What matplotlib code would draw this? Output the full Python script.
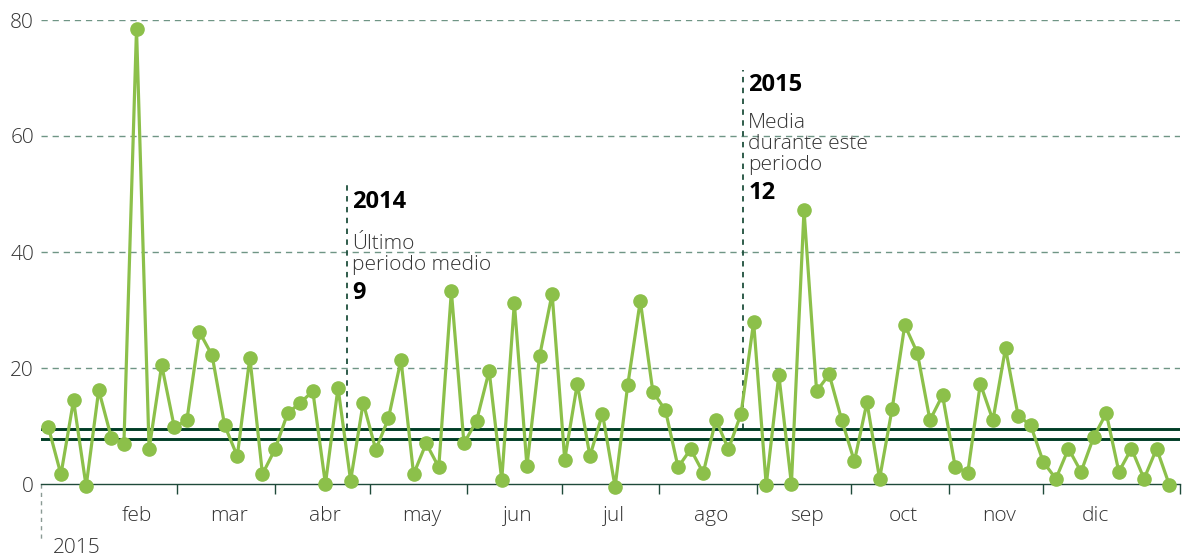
import matplotlib
matplotlib.use("Agg")
import matplotlib.pyplot as plt
import pandas as pd
import numpy as np

# ---- data ----
start_date = "2015-01-19"
values = [9.8, 1.65, 14.4, -0.4, 16.2, 8.0, 6.9, 78.5, 6.0, 20.5,
          9.8, 11.0, 26.2, 22.2, 10.1, 4.8, 21.8, 1.7, 6.0, 12.2,
          14.0, 16.0, 0.0, 16.6, 0.6, 14.0, 5.9, 11.3, 21.4, 1.7,
          7.0, 2.9, 33.2, 7.0, 10.9, 19.5, 0.7, 31.2, 3.1, 22.0,
          32.8, 4.2, 17.3, 4.8, 12.1, -0.5, 17.0, 31.6, 15.9, 12.7,
          2.9, 6.0, 1.9, 11.1, 6.0, 12.1, 27.9, -0.2, 18.8, 0.0,
          47.2, 16.0, 18.9, 11.0, 3.9, 14.1, 0.9, 13.0, 27.4, 22.6,
          11.0, 15.3, 3.0, 1.9, 17.3, 11.0, 23.4, 11.8, 10.1, 3.8,
          0.9, 6.1, 2.1, 8.1, 12.2, 2.1, 6.1, 0.9, 6.1, -0.1]
reference_levels = [9.5, 7.8]
month_labels = ["feb", "mar", "abr", "may", "jun", "jul", "ago", "sep", "oct", "nov", "dic"]
y_ticks = [0, 20, 40, 60, 80]
ann1 = {"year": "2014", "text": "Último\nperiodo medio", "value": "9"}
ann2 = {"year": "2015", "text": "Media\ndurante este\nperiodo", "value": "12"}

dates = pd.date_range(start_date, periods=len(values), freq="4D")

plt.rcParams['font.family'] = ['Open Sans', 'DejaVu Sans']

GREEN = "#8cc04a"
DARK = "#003d26"
GRID = "#6f9585"
TXT = "#333333"

fig = plt.figure(figsize=(11.83, 5.55), dpi=100)
ax = fig.add_axes([41/1183, 71/555, 1139/1183, 464/555])

xmin = pd.Timestamp("2015-01-16 16:00")
xmax = pd.Timestamp("2016-01-13 10:00")
ax.set_xlim(xmin, xmax)
ax.set_ylim(0, 80)

# gridlines
for yv in y_ticks[1:]:
    ax.axhline(yv, color=GRID, lw=1.0, dashes=(4.5, 3.5), zorder=1)

# reference levels
for lvl in reference_levels:
    ax.axhline(lvl, color=DARK, lw=2.1, zorder=2)

# annotation lines
a1x = pd.Timestamp("2015-04-23 18:00")
a2x = pd.Timestamp("2015-08-27 12:00")
ax.plot([a1x, a1x], [reference_levels[0], 52.4], color="#1f4f3d", lw=1.3, dashes=(3, 3), zorder=1)
ax.plot([a2x, a2x], [reference_levels[0], 71.4], color="#1f4f3d", lw=1.3, dashes=(3, 3), zorder=1)

# series
ax.plot(dates, values, color=GREEN, lw=2.3, marker="o", ms=9.5, mfc=GREEN, mec=GREEN,
        zorder=4, clip_on=False)

# spines
for s in ["top", "right", "left"]:
    ax.spines[s].set_visible(False)
ax.spines["bottom"].set_color("#1f4a3a")
ax.spines["bottom"].set_linewidth(1.0)
ax.spines["bottom"].set_zorder(3)

# y ticks
ax.set_yticks(y_ticks)
ax.set_yticklabels([str(v) for v in y_ticks])
ax.tick_params(axis="y", length=0, pad=5, labelsize=15, labelcolor=TXT)
for lab in ax.get_yticklabels():
    lab.set_fontweight("light")

# x ticks: month boundaries (major) and month-center labels (minor)
major = pd.date_range("2015-03-01", "2015-12-01", freq="MS")
ax.set_xticks(list(major) + [xmax])
ax.set_xticklabels([])
ax.tick_params(axis="x", which="major", length=7, width=1.0, color="#1f4a3a", direction="out")
starts = pd.date_range("2015-02-01", "2016-01-01", freq="MS")
mids = [starts[i] + (starts[i + 1] - starts[i]) / 2 + pd.Timedelta(days=1) for i in range(len(starts) - 1)]
ax.set_xticks(mids, minor=True)
ax.set_xticklabels(month_labels, minor=True)
ax.tick_params(axis="x", which="minor", length=0, pad=15.5, labelsize=15, labelcolor=TXT)
for lab in ax.get_xticklabels(minor=True):
    lab.set_fontweight("light")

# left 2015 marker
ax.plot([0, 0], [0, -56/464], transform=ax.transAxes, color="#8a9a94", lw=1.0,
        dashes=(3, 3), clip_on=False)
fig.text(53/1183, 2/555, "2015", fontsize=15, color=TXT, ha="left", va="baseline",
         fontweight="light")

# annotations
def annotate(xpos, year, text, value, y_year, y_text, y_value):
    ax.annotate(year, xy=(xpos, y_year), xytext=(4, 0), textcoords="offset points",
                fontsize=17, fontweight="bold", color="black", va="baseline", ha="left")
    ax.annotate(text, xy=(xpos, y_text), xytext=(4, 0), textcoords="offset points",
                fontsize=15, fontweight="light", color=TXT, va="baseline", ha="left",
                linespacing=1.08)
    ax.annotate(value, xy=(xpos, y_value), xytext=(4, 0), textcoords="offset points",
                fontsize=17, fontweight="bold", color="black", va="baseline", ha="left")

annotate(a1x, ann1["year"], ann1["text"], ann1["value"], 47.5, 36.9, 31.9)
annotate(a2x, ann2["year"], ann2["text"], ann2["value"], 67.8, 54.1, 49.1)

fig.savefig("out.png", dpi=100)
